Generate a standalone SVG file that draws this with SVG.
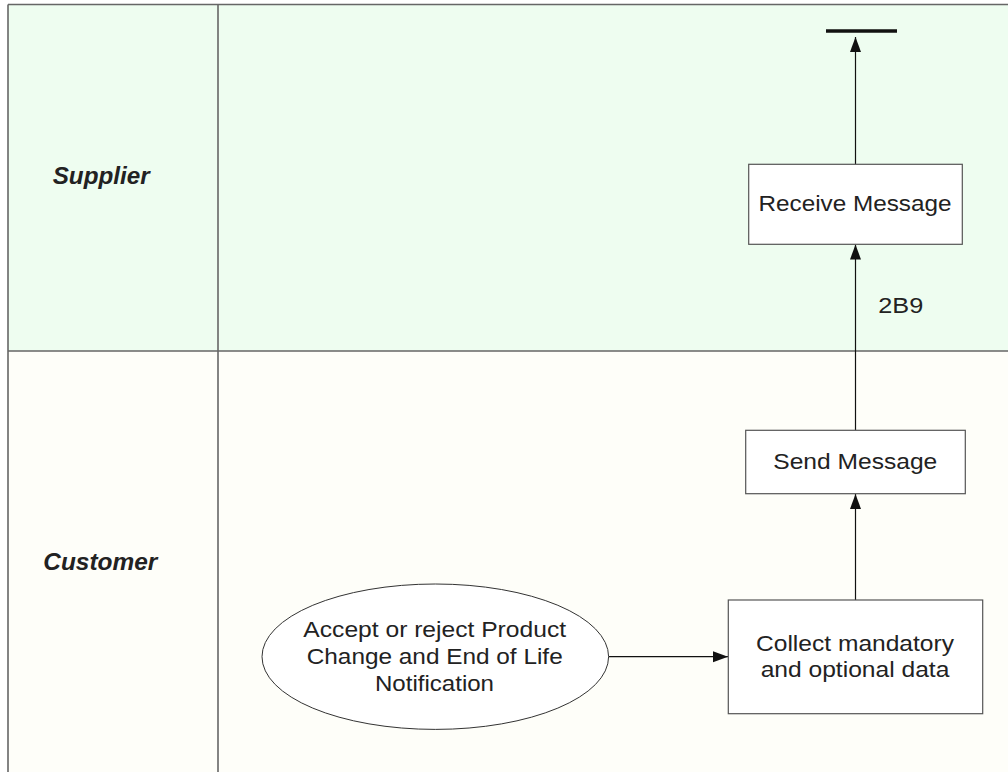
<svg xmlns="http://www.w3.org/2000/svg" width="1008" height="772" viewBox="0 0 1008 772">
<style>
.lane{stroke:none}
.border{stroke:#666;stroke-width:1.6;fill:none}
.box{fill:#fff;stroke:#555;stroke-width:1.2}
.t{font-family:"Liberation Sans",Arial,sans-serif;font-size:22px;fill:#222;text-anchor:middle}
.lbl{font-family:"Liberation Sans",Arial,sans-serif;font-size:23px;font-weight:bold;font-style:italic;fill:#222}
.conn{stroke:#111;stroke-width:1.2;fill:none}
</style>
<defs>
<marker id="arr" markerUnits="userSpaceOnUse" markerWidth="16" markerHeight="12" refX="15" refY="5.5" orient="auto">
<path d="M0,0 L15,5.5 L0,11 Z" fill="#111"/>
</marker>
</defs>
<g id="lanes">
<rect class="lane" x="8" y="4.5" width="1000" height="346.5" fill="#eefdf0"/>
<rect class="lane" x="8" y="351" width="1000" height="421" fill="#fefef9"/>
<path class="border" d="M8,4.5 H1008 M8,4.5 V772 M218,4.5 V772 M8,351 H1008"/>
<text class="lbl" x="52.7" y="184" textLength="97" lengthAdjust="spacingAndGlyphs">Supplier</text>
<text class="lbl" x="43.3" y="569.5" textLength="114" lengthAdjust="spacingAndGlyphs">Customer</text>
</g>
<g id="connectors">
<line class="conn" x1="608.7" y1="656.7" x2="728" y2="656.7" marker-end="url(#arr)"/>
<line class="conn" x1="855.5" y1="600" x2="855.5" y2="494" marker-end="url(#arr)"/>
<line class="conn" x1="855.5" y1="430.3" x2="855.5" y2="244.5" marker-end="url(#arr)"/>
<line class="conn" x1="855.5" y1="164.3" x2="855.5" y2="37" marker-end="url(#arr)"/>
<text class="t" x="900.8" y="312.7" textLength="45" lengthAdjust="spacingAndGlyphs">2B9</text>
</g>
<g id="end">
<line x1="826" y1="31" x2="897" y2="31" stroke="#111" stroke-width="3.5"/>
</g>
<g id="receive">
<rect class="box" x="748.7" y="164.3" width="213.6" height="80"/>
<text class="t" x="855" y="210.7" textLength="193" lengthAdjust="spacingAndGlyphs">Receive Message</text>
</g>
<g id="send">
<rect class="box" x="745.7" y="430.3" width="219.6" height="63.4"/>
<text class="t" x="855.3" y="469" textLength="164" lengthAdjust="spacingAndGlyphs">Send Message</text>
</g>
<g id="collect">
<rect class="box" x="728.3" y="600" width="254.4" height="113.7"/>
<text class="t" x="855" y="650.7" textLength="198" lengthAdjust="spacingAndGlyphs">Collect mandatory</text>
<text class="t" x="855" y="677.3" textLength="188.7" lengthAdjust="spacingAndGlyphs">and optional data</text>
</g>
<g id="accept">
<ellipse cx="435.3" cy="656.7" rx="173.3" ry="72.7" fill="#fff" stroke="#333" stroke-width="1"/>
<text class="t" x="434.7" y="637.3" textLength="262.7" lengthAdjust="spacingAndGlyphs">Accept or reject Product</text>
<text class="t" x="434.7" y="664.3" textLength="256" lengthAdjust="spacingAndGlyphs">Change and End of Life</text>
<text class="t" x="434.5" y="690.7" textLength="119" lengthAdjust="spacingAndGlyphs">Notification</text>
</g>
</svg>
